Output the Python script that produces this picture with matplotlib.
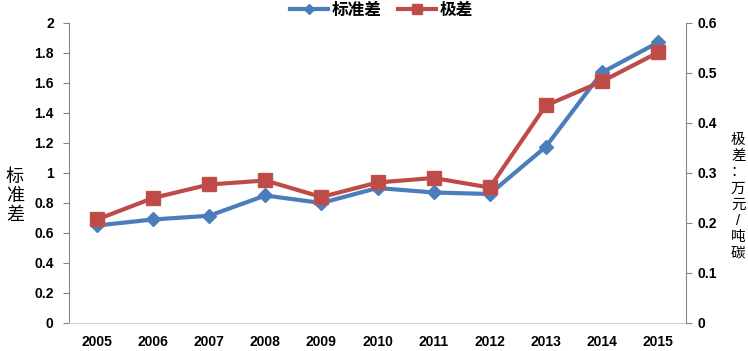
import matplotlib
matplotlib.use("Agg")
import matplotlib.pyplot as plt
import numpy as np

plt.rcParams['font.family'] = ['Liberation Sans', 'Noto Sans CJK SC', 'DejaVu Sans']

years = ["2005", "2006", "2007", "2008", "2009", "2010",
         "2011", "2012", "2013", "2014", "2015"]
std_dev = [0.65, 0.69, 0.715, 0.85, 0.80, 0.90, 0.87, 0.86, 1.175, 1.67, 1.87]
range_val = [0.207, 0.25, 0.277, 0.285, 0.252, 0.281, 0.29, 0.271, 0.435, 0.483, 0.541]

blue = "#4A7EBB"
red = "#BE4B48"
axis_gray = "#868686"

fig = plt.figure(figsize=(7.48, 3.51), dpi=100)
ax = fig.add_axes([0.0922, 0.0798, 0.825, 0.8547])
ax2 = ax.twinx()

x = np.arange(len(years))
ax.plot(x, std_dev, color=blue, lw=3, marker="D", ms=7, label="标准差", zorder=3)
ax2.plot(x, range_val, color=red, lw=3, marker="s", ms=10,
         markeredgecolor="#C0504D", label="极差", zorder=3)

ax.set_xlim(-0.5, len(years) - 0.5)
ax.set_ylim(0, 2)
ax.set_yticks(np.arange(0, 2.01, 0.2))
ax.set_yticklabels(["0", "0.2", "0.4", "0.6", "0.8", "1", "1.2", "1.4", "1.6", "1.8", "2"])
ax2.set_ylim(0, 0.6)
ax2.set_yticks(np.arange(0, 0.61, 0.1))
ax2.set_yticklabels(["0", "0.1", "0.2", "0.3", "0.4", "0.5", "0.6"])
ax.set_xticks(x)
ax.set_xticklabels(years)

for a in (ax, ax2):
    for s in a.spines.values():
        s.set_visible(False)
ax.spines["left"].set_visible(True)
ax.spines["left"].set_color(axis_gray)
ax.spines["bottom"].set_visible(True)
ax.spines["bottom"].set_color("#D0D0D0")
ax2.spines["right"].set_visible(True)
ax2.spines["right"].set_color(axis_gray)

ax.tick_params(axis="y", length=4, color=axis_gray, labelsize=10, pad=7)
ax.tick_params(axis="x", length=0, labelsize=10, pad=9)
ax2.tick_params(axis="y", length=4, color=axis_gray, labelsize=10, pad=4)
for lab in ax.get_yticklabels() + ax.get_xticklabels() + ax2.get_yticklabels():
    lab.set_fontweight("bold")

fig.text(0.008, 0.44, "标\n准\n差", fontsize=13,
         va="center", ha="left", linespacing=1.15)
fig.text(0.987, 0.44, "极\n差\n：\n万\n元\n/\n吨\n碳", fontsize=10.5,
         va="center", ha="center", multialignment="center", linespacing=1.2)

h1, l1 = ax.get_legend_handles_labels()
h2, l2 = ax2.get_legend_handles_labels()
leg = fig.legend(h1 + h2, l1 + l2, loc="upper center", bbox_to_anchor=(0.51, 1.035),
                 ncol=2, frameon=False, fontsize=12, handlelength=2.3,
                 columnspacing=1.0, handletextpad=0.2, markerscale=0.7)
for t in leg.get_texts():
    t.set_fontweight("bold")

fig.savefig("out.png", dpi=100)
